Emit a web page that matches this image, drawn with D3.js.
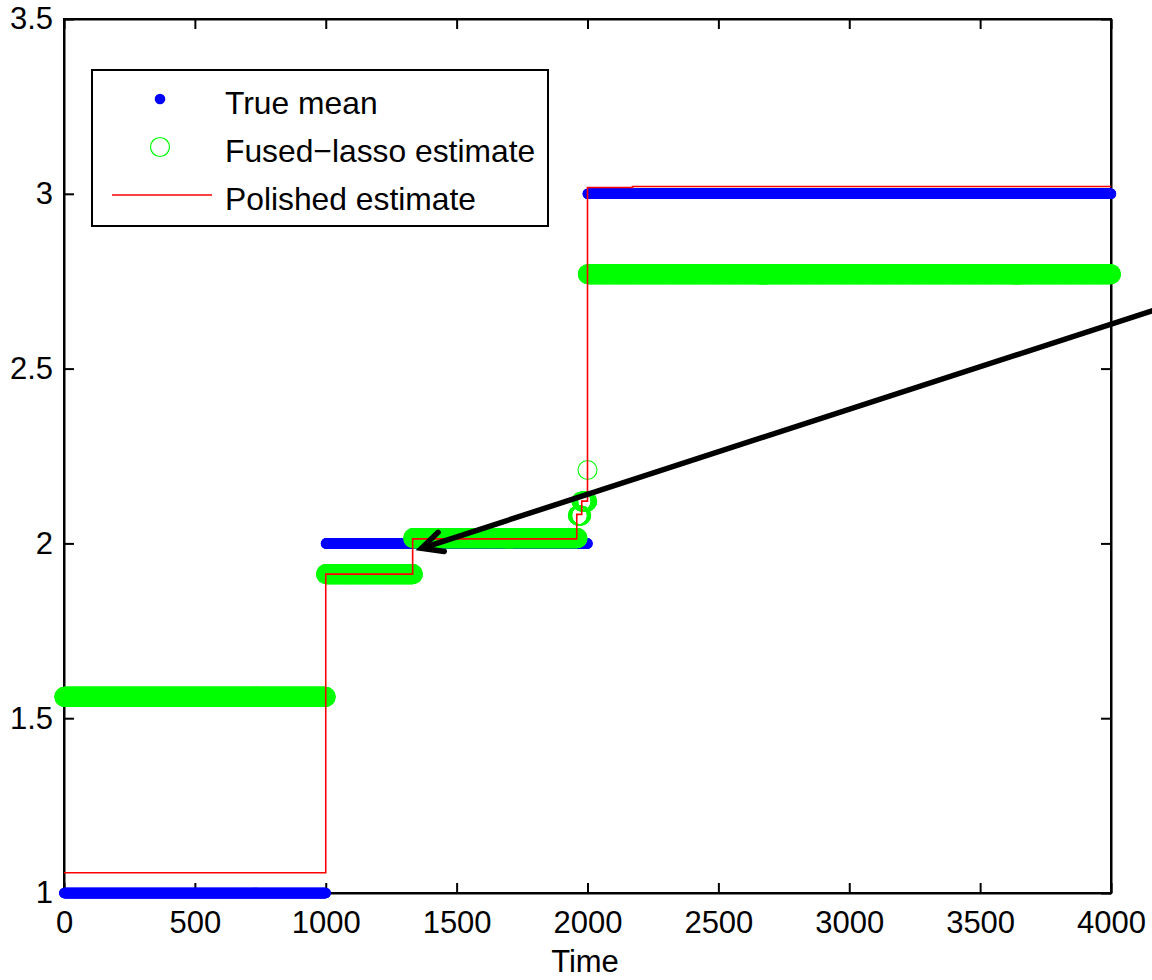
<!DOCTYPE html>
<html>
<head>
<meta charset="utf-8">
<script src="https://cdn.jsdelivr.net/npm/d3@7"></script>
<style>
  body { margin: 0; background: #fff; }
  svg { display: block; font-family: "Liberation Sans", Arial, sans-serif; }
</style>
</head>
<body>
<svg id="chart" width="1152" height="980"></svg>
<script>
// step segments (time index ranges and level)
var trueStart = [1, 1001, 2001];
var trueEnd = [1000, 2000, 4000];
var trueValue = [1, 2, 3];

var fusedStart = [1, 1001, 1334, 1963, 1977, 2000, 2001];
var fusedEnd = [1000, 1333, 1962, 1976, 1999, 2000, 4000];
var fusedValue = [1.561, 1.912, 2.015, 2.08, 2.12, 2.21, 2.77];

// polished estimate: breakpoints and level after each break
var polishedBreaks = [0, 1000, 1332, 1959, 1978, 2000, 2172, 4000];
var polishedValue = [1.058, 1.912, 2.013, 2.083, 2.121, 3.018, 3.021];

var xTicks = [0, 500, 1000, 1500, 2000, 2500, 3000, 3500, 4000];
var yTicks = [1, 1.5, 2, 2.5, 3, 3.5];

// annotation arrow (tip, tail) in data units
var arrowTip = [1366, 1.986];
var arrowTail = [4250, 2.688];

var legendLabels = ["True mean", "Fused\u2212lasso estimate", "Polished estimate"];

var svg = d3.select("#chart");
var plotLeft = 64, plotRight = 1111, plotTop = 19, plotBottom = 893;

var x = d3.scaleLinear().domain([0, 4000]).range([plotLeft, plotRight]);
var y = d3.scaleLinear().domain([1, 3.5]).range([plotBottom, plotTop]);

// axes box with inward ticks
var fontSize = 31;
var gx = svg.append("g").attr("transform", "translate(0," + plotBottom + ")")
  .call(d3.axisBottom(x).tickValues(xTicks).tickSizeInner(-10).tickSizeOuter(0).tickPadding(18).tickFormat(d3.format("d")));
var gxt = svg.append("g").attr("transform", "translate(0," + plotTop + ")")
  .call(d3.axisTop(x).tickValues(xTicks).tickSizeInner(-10).tickSizeOuter(0).tickFormat(""));
var gy = svg.append("g").attr("transform", "translate(" + plotLeft + ",0)")
  .call(d3.axisLeft(y).tickValues(yTicks).tickSizeInner(-10).tickSizeOuter(0).tickPadding(11).tickFormat(d3.format("")));
var gyr = svg.append("g").attr("transform", "translate(" + plotRight + ",0)")
  .call(d3.axisRight(y).tickValues(yTicks).tickSizeInner(-10).tickSizeOuter(0).tickFormat(""));

[gx, gxt, gy, gyr].forEach(function (g) {
  g.select(".domain").attr("stroke", "#000").attr("stroke-width", 2);
  g.selectAll(".tick line").attr("stroke", "#000").attr("stroke-width", 2);
  g.selectAll("text").attr("font-size", fontSize).attr("fill", "#000")
    .attr("font-family", "Liberation Sans, Arial, sans-serif");
});
svg.append("rect").attr("x", plotLeft).attr("y", plotTop)
  .attr("width", plotRight - plotLeft).attr("height", plotBottom - plotTop)
  .attr("fill", "none").attr("stroke", "#000").attr("stroke-width", 2);

svg.append("text").attr("x", 585).attr("y", 972).attr("text-anchor", "middle")
  .attr("font-size", fontSize).text("Time");

// expand segments into per-time-index points
function expand(starts, ends, values) {
  var pts = [];
  starts.forEach(function (s, i) {
    d3.range(s, ends[i] + 1).forEach(function (t) { pts.push([t, values[i]]); });
  });
  return pts;
}

var truePts = expand(trueStart, trueEnd, trueValue);
var fusedPts = expand(fusedStart, fusedEnd, fusedValue);

svg.append("g").selectAll("circle").data(truePts).enter().append("circle")
  .attr("cx", function (d) { return x(d[0]); })
  .attr("cy", function (d) { return y(d[1]); })
  .attr("r", 5.3)
  .attr("fill", "#0000ff");

svg.append("g").selectAll("circle").data(fusedPts).enter().append("circle")
  .attr("cx", function (d) { return x(d[0]); })
  .attr("cy", function (d) { return y(d[1]); })
  .attr("r", 9.5)
  .attr("fill", "none")
  .attr("stroke", "#00ff00")
  .attr("stroke-width", 1.1);

var polishedPts = polishedValue.map(function (v, i) { return [polishedBreaks[i], v]; });
polishedPts.push([polishedBreaks[polishedBreaks.length - 1], polishedValue[polishedValue.length - 1]]);

svg.append("path").datum(polishedPts)
  .attr("d", d3.line().x(function (d) { return x(d[0]); }).y(function (d) { return y(d[1]); }).curve(d3.curveStepAfter))
  .attr("fill", "none")
  .attr("stroke", "#ff0000")
  .attr("stroke-width", 1.6);

// legend
var legend = svg.append("g");
legend.append("rect").attr("x", 92).attr("y", 70).attr("width", 456).attr("height", 156)
  .attr("fill", "#fff").attr("stroke", "#000").attr("stroke-width", 2);
legend.append("circle").attr("cx", 160).attr("cy", 99).attr("r", 5.3).attr("fill", "#0000ff");
legend.append("circle").attr("cx", 160).attr("cy", 147).attr("r", 9.5)
  .attr("fill", "none").attr("stroke", "#00ff00").attr("stroke-width", 1.2);
legend.append("line").attr("x1", 112).attr("x2", 212).attr("y1", 195).attr("y2", 195)
  .attr("stroke", "#ff0000").attr("stroke-width", 1.6);
legend.selectAll("text.lbl").data(legendLabels).enter().append("text")
  .attr("class", "lbl")
  .attr("x", 225)
  .attr("y", function (d, i) { return 114 + i * 48; })
  .attr("font-size", 31.8)
  .text(function (d) { return d; });

// arrow annotation
var tip = [x(arrowTip[0]), y(arrowTip[1])];
var tail = [x(arrowTail[0]), y(arrowTail[1])];
var ang = Math.atan2(tail[1] - tip[1], tail[0] - tip[0]);
var headLen = 23, spread = 26 * Math.PI / 180;
var b1 = [tip[0] + headLen * Math.cos(ang - spread), tip[1] + headLen * Math.sin(ang - spread)];
var b2 = [tip[0] + headLen * Math.cos(ang + spread), tip[1] + headLen * Math.sin(ang + spread)];
svg.append("line").attr("x1", tail[0]).attr("y1", tail[1]).attr("x2", tip[0]).attr("y2", tip[1])
  .attr("stroke", "#000").attr("stroke-width", 5.5);
svg.append("path").attr("d", d3.line()([b1, tip, b2]))
  .attr("fill", "none").attr("stroke", "#000").attr("stroke-width", 5.5)
  .attr("stroke-linejoin", "miter").attr("stroke-linecap", "round");
</script>
</body>
</html>
